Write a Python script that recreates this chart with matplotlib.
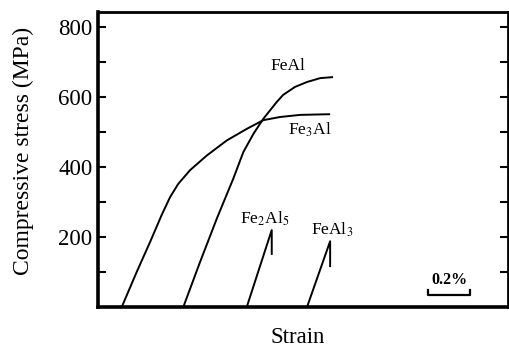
import matplotlib
matplotlib.use("Agg")
import matplotlib.pyplot as plt

plt.rcParams['font.family'] = ['Liberation Serif', 'DejaVu Serif']
plt.rcParams['mathtext.fontset'] = 'stix'

# strain in %, stress in MPa
fe3al_x = [0.113, 0.184, 0.248, 0.303, 0.343, 0.382, 0.438, 0.518, 0.613, 0.708, 0.787, 0.867, 0.962, 1.105]
fe3al_y = [0, 100, 186, 263, 314, 352, 391, 433, 476, 509, 534, 543, 549, 551]

feal_x = [0.406, 0.486, 0.565, 0.644, 0.692, 0.740, 0.787, 0.851, 0.881, 0.938, 0.995, 1.057, 1.119]
feal_y = [0, 129, 252, 367, 443, 495, 538, 586, 606, 629, 643, 654, 657]

fe2al5_x = [0.708, 0.827, 0.827]
fe2al5_y = [0, 220, 149]

feal3_x = [0.995, 1.105, 1.105]
feal3_y = [0, 188, 114]

labels = ["Fe$_3$Al", "FeAl", "Fe$_2$Al$_5$", "FeAl$_3$"]
yticks = [200, 400, 600, 800]
ylabel = "Compressive stress (MPa)"
xlabel = "Strain"
scale_label = "0.2%"
scale_len = 0.2

fig = plt.figure(figsize=(5.10, 3.49), dpi=100)
ax = fig.add_axes([0.1922, 0.1203, 0.804, 0.8453])
ax.set_xlim(0, 1.952)
ax.set_ylim(0, 843)

lw = 1.4
for xs, ys in [(fe3al_x, fe3al_y), (feal_x, feal_y), (fe2al5_x, fe2al5_y), (feal3_x, feal3_y)]:
    ax.plot(xs, ys, color='black', lw=lw, solid_capstyle='butt', solid_joinstyle='round', clip_on=False)

ax.text(0.905, 665, labels[1], fontsize=12.5, ha='center', va='bottom')
ax.text(1.01, 505, labels[0], fontsize=12.5, ha='center', va='center')
ax.text(0.795, 225, labels[2], fontsize=12.5, ha='center', va='bottom')
ax.text(1.115, 195, labels[3], fontsize=12.5, ha='center', va='bottom')

# scale bar
sx0 = 1.572
ax.plot([sx0, sx0, sx0 + scale_len, sx0 + scale_len], [48, 33, 33, 48], color='black', lw=1.6)
ax.text(sx0 + scale_len / 2, 55, scale_label, fontsize=11.5, ha='center', va='bottom', fontweight='bold')

ax.set_yticks(yticks)
ax.set_yticks([100, 300, 500, 700], minor=True)
ax.set_xticks([])
ax.tick_params(axis='y', which='both', direction='in', length=6, width=1.5, right=True, labelsize=16.5, pad=4)
for s in ['left', 'bottom']:
    ax.spines[s].set_linewidth(2.6)
for s in ['top', 'right']:
    ax.spines[s].set_linewidth(2.0)

ax.set_ylabel(ylabel, fontsize=17, va='center')
ax.yaxis.set_label_coords(-0.183, 0.53)
ax.set_xlabel(xlabel, fontsize=16.5, va='center')
ax.xaxis.set_label_coords(0.488, -0.103)

fig.savefig("out.png", dpi=100)
